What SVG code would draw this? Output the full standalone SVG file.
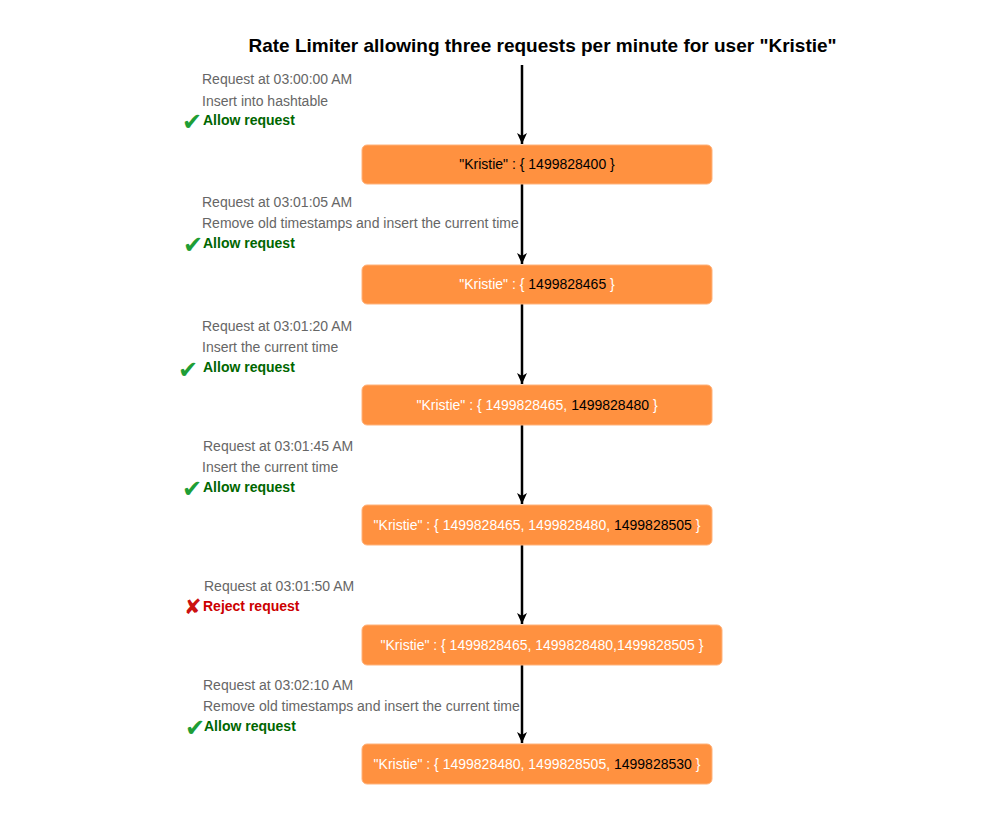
<svg xmlns="http://www.w3.org/2000/svg" width="998" height="815" viewBox="0 0 998 815">
<defs>
<style>
text{font-family:"Liberation Sans",Arial,sans-serif;}
.title{font-size:19px;font-weight:bold;fill:#000;}
.lbl{font-size:14px;fill:#666666;}
.ok{font-size:14px;font-weight:bold;fill:#006600;}
.bad{font-size:14px;font-weight:bold;fill:#CC0000;}
.chk{font-family:"DejaVu Sans",sans-serif;font-size:24px;fill:#1E9E36;}
.x{font-family:"DejaVu Sans",sans-serif;font-size:21px;fill:#CC1111;}
.box{fill:#FF9140;stroke:#FFB27A;stroke-width:1;}
.nt{font-size:14px;fill:#FFFFFF;text-anchor:middle;}
.k{fill:#000000;}
.edge{stroke:#000;stroke-width:2.5;fill:none;marker-end:url(#arr);}
</style>
<marker id="arr" viewBox="0 0 12 12" refX="11" refY="6" markerWidth="12" markerHeight="12" markerUnits="userSpaceOnUse" orient="auto">
<path d="M0,1 L11,6 L0,11 L3,6 Z" fill="#000"/>
</marker>
</defs>
<rect width="998" height="815" fill="#fff"/>
<text class="title" x="542.5" y="52" text-anchor="middle">Rate Limiter allowing three requests per minute for user "Kristie"</text>

<g id="connectors">
<line class="edge" x1="522" y1="65" x2="522" y2="144"/>
<line class="edge" x1="522" y1="184" x2="522" y2="264"/>
<line class="edge" x1="522" y1="304" x2="522" y2="384"/>
<line class="edge" x1="522" y1="425" x2="522" y2="504"/>
<line class="edge" x1="522" y1="545" x2="522" y2="624"/>
<line class="edge" x1="522" y1="665" x2="522" y2="743"/>
</g>

<g id="label1">
<text class="lbl" x="202" y="84">Request at 03:00:00 AM</text>
<text class="lbl" x="202" y="106">Insert into hashtable</text>
<text class="chk" x="182" y="130">✔</text>
<text class="ok" x="203" y="125">Allow request</text>
</g>
<g id="node1">
<rect class="box" x="362" y="145" width="350" height="39" rx="5"/>
<text class="nt" x="537" y="169"><tspan class="k">"Kristie" : { 1499828400 }</tspan></text>
</g>

<g id="label2">
<text class="lbl" x="202" y="207">Request at 03:01:05 AM</text>
<text class="lbl" x="202" y="228">Remove old timestamps and insert the current time</text>
<text class="chk" x="183" y="253">✔</text>
<text class="ok" x="203" y="248">Allow request</text>
</g>
<g id="node2">
<rect class="box" x="362" y="265" width="350" height="39" rx="5"/>
<text class="nt" x="537" y="289">"Kristie" : { <tspan class="k">1499828465</tspan> }</text>
</g>

<g id="label3">
<text class="lbl" x="202" y="331">Request at 03:01:20 AM</text>
<text class="lbl" x="202" y="352">Insert the current time</text>
<text class="chk" x="178" y="378">✔</text>
<text class="ok" x="203" y="372">Allow request</text>
</g>
<g id="node3">
<rect class="box" x="362" y="385" width="350" height="40" rx="5"/>
<text class="nt" x="537" y="410">"Kristie" : { 1499828465, <tspan class="k">1499828480</tspan> }</text>
</g>

<g id="label4">
<text class="lbl" x="203" y="451">Request at 03:01:45 AM</text>
<text class="lbl" x="202" y="472">Insert the current time</text>
<text class="chk" x="182" y="497">✔</text>
<text class="ok" x="203" y="492">Allow request</text>
</g>
<g id="node4">
<rect class="box" x="362" y="505" width="350" height="40" rx="5"/>
<text class="nt" x="537" y="530">"Kristie" : { 1499828465, 1499828480, <tspan class="k">1499828505</tspan> }</text>
</g>

<g id="label5">
<text class="lbl" x="204" y="591">Request at 03:01:50 AM</text>
<text class="x" x="184" y="614">✘</text>
<text class="bad" x="203" y="611">Reject request</text>
</g>
<g id="node5">
<rect class="box" x="362" y="625" width="360" height="40" rx="5"/>
<text class="nt" x="542" y="650">"Kristie" : { 1499828465, 1499828480,1499828505 }</text>
</g>

<g id="label6">
<text class="lbl" x="203" y="690">Request at 03:02:10 AM</text>
<text class="lbl" x="203" y="711">Remove old timestamps and insert the current time</text>
<text class="chk" x="185" y="736">✔</text>
<text class="ok" x="204" y="731">Allow request</text>
</g>
<g id="node6">
<rect class="box" x="362" y="744" width="350" height="40" rx="5"/>
<text class="nt" x="537" y="769">"Kristie" : { 1499828480, 1499828505, <tspan class="k">1499828530</tspan> }</text>
</g>
</svg>
